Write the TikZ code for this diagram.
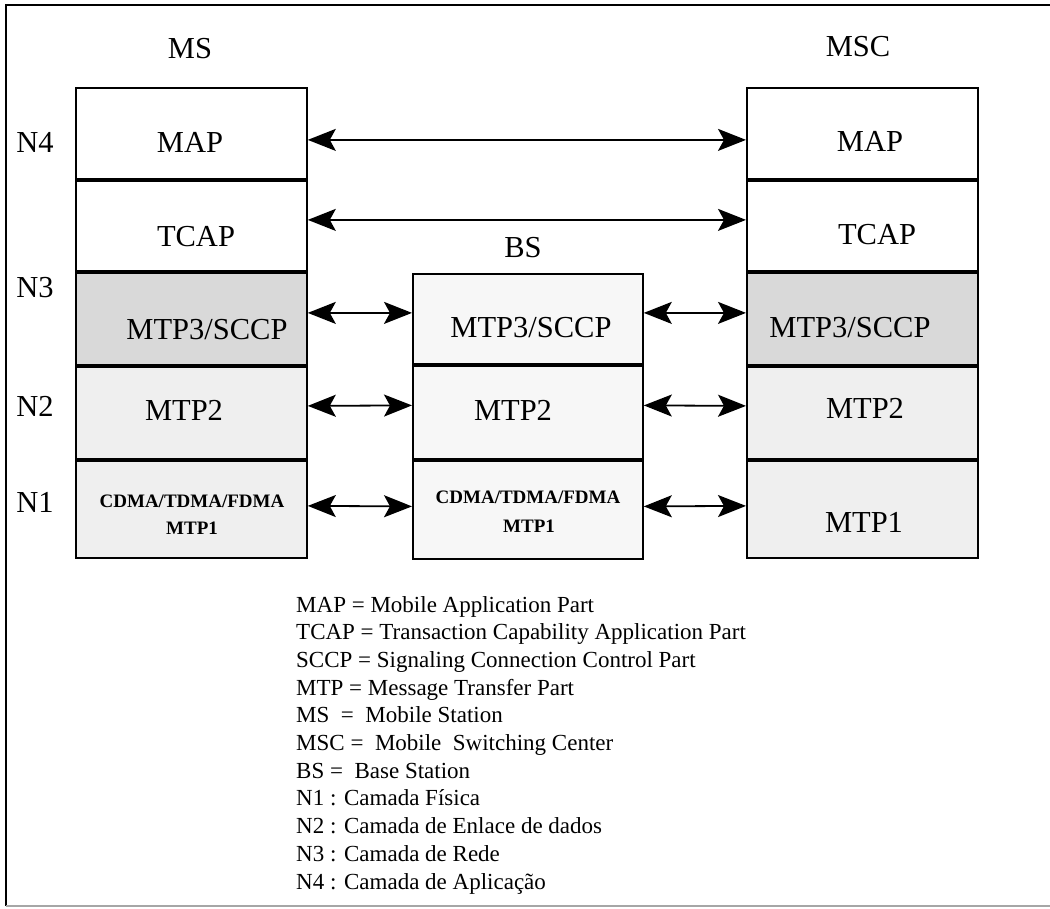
\documentclass[tikz,border=0pt]{standalone}
\usepackage{fontspec}
\setmainfont{Liberation Serif}
\usetikzlibrary{arrows.meta}
\definecolor{darkfill}{HTML}{D9D9D9}
\definecolor{lightfill}{HTML}{EFEFEF}
\definecolor{bsfill}{HTML}{F7F7F7}
\begin{document}
\begin{tikzpicture}[x=1pt,y=-1pt,
 layer/.style={draw, line width=1.8pt, minimum width=231pt, inner sep=0pt, anchor=north west},
 sepline/.style={line width=3.4pt},
 lbl/.style={font=\fontsize{30.5}{33}\selectfont, anchor=base, inner sep=0pt},
 sm/.style={font=\fontsize{19}{22}\selectfont\bfseries, anchor=base, inner sep=0pt},
 leg/.style={font=\fontsize{23}{27}\selectfont, anchor=base west, inner sep=0pt},
 arr/.style={line width=1.8pt, {Stealth[length=28pt,width=22pt,inset=6pt]}-{Stealth[length=28pt,width=22pt,inset=6pt]}},
 frameline/.style={line width=1.8pt},
]
\useasboundingbox (0,0) rectangle (1050,909);
% frame
\draw[frameline] (6,906) -- (6,5) -- (1050,5);
\draw[line width=1.5pt, black!35] (6,906) -- (1050,906);

% MS stack
\node[layer, minimum height=93pt, fill=white] (msMAP) at (75,87) {};
\node[layer, minimum height=92pt, fill=white] (msTCAP) at (75,180) {};
\node[layer, minimum height=94pt, fill=darkfill] (msN3) at (75,272) {};
\node[layer, minimum height=94pt, fill=lightfill] (msN2) at (75,366) {};
\node[layer, minimum height=97pt, fill=lightfill] (msN1) at (75,460) {};
% BS stack
\node[layer, minimum width=230pt, minimum height=92pt, fill=bsfill] (bsN3) at (412,273) {};
\node[layer, minimum width=230pt, minimum height=95pt, fill=bsfill] (bsN2) at (412,365) {};
\node[layer, minimum width=230pt, minimum height=98pt, fill=bsfill] (bsN1) at (412,460) {};
% MSC stack
\node[layer, minimum height=93pt, fill=white] (mscMAP) at (746,87) {};
\node[layer, minimum height=92pt, fill=white] (mscTCAP) at (746,180) {};
\node[layer, minimum height=94pt, fill=darkfill] (mscN3) at (746,272) {};
\node[layer, minimum height=94pt, fill=lightfill] (mscN2) at (746,366) {};
\node[layer, minimum height=97pt, fill=lightfill] (mscN1) at (746,460) {};

% thicker separators
\foreach \n in {msTCAP,msN3,msN2,msN1,bsN2,bsN1,mscTCAP,mscN3,mscN2,mscN1}
  \draw[sepline] (\n.north west) -- (\n.north east);

% column titles and level labels
\node[lbl] (tMS) at (190,59) {MS};
\node[lbl] (tBS) at (523,258) {BS};
\node[lbl] (tMSC) at (858,57) {MSC};
\node[lbl] (tN4) at (35,153) {N4};
\node[lbl] (tN3) at (35,298) {N3};
\node[lbl] (tN2) at (35,416) {N2};
\node[lbl] (tN1) at (35,512) {N1};

% MS texts
\node[lbl] (xMsMAP) at (190,153) {MAP};
\node[lbl] (xMsTCAP) at (196,247) {TCAP};
\node[lbl] (xMsN3) at (207,340) {MTP3/SCCP};
\node[lbl] (xMsN2) at (184,420) {MTP2};
\node[sm] (xMsN1a) at (192,507) {CDMA/TDMA/FDMA};
\node[sm] (xMsN1b) at (192,534) {MTP1};
% BS texts
\node[lbl] (xBsN3) at (531,338) {MTP3/SCCP};
\node[lbl] (xBsN2) at (513,420) {MTP2};
\node[sm] (xBsN1a) at (528,503) {CDMA/TDMA/FDMA};
\node[sm] (xBsN1b) at (529,532) {MTP1};
% MSC texts
\node[lbl] (xMscMAP) at (870,152) {MAP};
\node[lbl] (xMscTCAP) at (877,245) {TCAP};
\node[lbl] (xMscN3) at (850,338) {MTP3/SCCP};
\node[lbl] (xMscN2) at (865,418) {MTP2};
\node[lbl] (xMscN1) at (864,532) {MTP1};

% arrows
\draw[arr] ([yshift=-5.5pt]msMAP.east) -- ([yshift=-5.5pt]mscMAP.west);
\draw[arr] ([yshift=7pt]msTCAP.east) -- ([yshift=7pt]mscTCAP.west);
\draw[arr] ([yshift=7pt]msN3.east) -- ([yshift=7pt]bsN3.west);
\draw[arr] ([yshift=7pt]bsN3.east) -- ([yshift=7pt]mscN3.west);
\draw[arr] ([yshift=8pt]msN2.east) -- ([yshift=8pt]bsN2.west);
\draw[arr] ([yshift=8pt]bsN2.east) -- ([yshift=8pt]mscN2.west);
\draw[arr] ([yshift=3.5pt]msN1.east) -- ([yshift=3.5pt]bsN1.west);
\draw[arr] ([yshift=3.5pt]bsN1.east) -- ([yshift=3.5pt]mscN1.west);

% legend
\node[leg] (l1) at (296,612) {MAP = Mobile Application Part};
\node[leg] (l2) at (296,639.7) {TCAP = Transaction Capability Application Part};
\node[leg] (l3) at (296,667.4) {SCCP = Signaling Connection Control Part};
\node[leg] (l4) at (296,695.1) {MTP = Message Transfer Part};
\node[leg] (l5) at (296,722.8) {MS\ \ =\ \ Mobile Station};
\node[leg] (l6) at (296,750.5) {MSC =\ \ Mobile\ \ Switching Center};
\node[leg] (l7) at (296,778.2) {BS =\ \ Base Station};
\node[leg] (l8) at (296,805.9) {N1 : Camada Física};
\node[leg] (l9) at (296,833.6) {N2 : Camada de Enlace de dados};
\node[leg] (l10) at (296,861.3) {N3 : Camada de Rede};
\node[leg] (l11) at (296,889) {N4 : Camada de Aplicação};
\end{tikzpicture}
\end{document}
